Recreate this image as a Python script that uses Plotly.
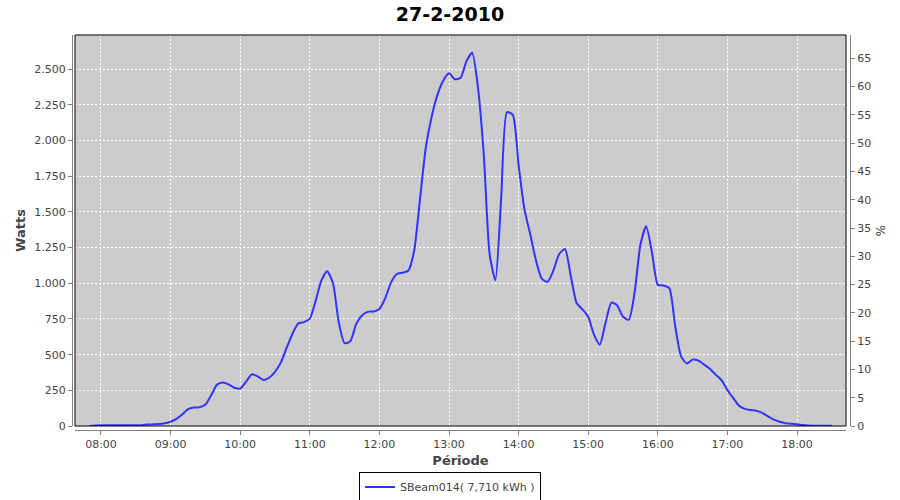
import pandas as pd
import plotly.graph_objects as go

title_text = "27-2-2010"
series_name = "SBeam014( 7,710 kWh )"
start_time = "2010-02-27 07:50"
step = "5min"

watts = [
    0, 3,
    5, 5, 5, 5, 5, 5, 5, 6, 10, 12, 14, 20,
    30, 50, 80, 118, 130, 131, 150, 215, 290, 305, 292, 268,
    262, 310, 362, 348, 322, 338, 380, 444, 547, 645, 718, 728,
    752, 875, 1020, 1085, 1000, 725, 580, 595, 715, 775, 800, 803,
    820, 895, 1005, 1065, 1074, 1090, 1230, 1590, 1950, 2165, 2320, 2420,
    2472, 2430, 2440, 2555, 2615, 2370, 1900, 1205, 1022, 1600, 2200, 2180,
    1830, 1520, 1345, 1160, 1032, 1010, 1090, 1205, 1240, 1050, 862, 818,
    765, 640, 570, 725, 865, 845, 765, 745, 935, 1270, 1400, 1215,
    990, 985, 965, 700, 490, 438, 465, 458, 430, 400, 360, 320,
    252, 195, 142, 120, 112, 107, 92, 67, 45, 30, 20, 15,
    12, 7, 4, 2, 2, 2, 2,
]
times = pd.date_range(start_time, periods=len(watts), freq=step)

x_range = ["2010-02-27 07:37:36", "2010-02-27 18:42:14"]
x_ticks = pd.date_range("2010-02-27 08:00", "2010-02-27 18:00", freq="1h")
x_ticklabels = [t.strftime("%H:%M") for t in x_ticks]
y_ticks = list(range(0, 2501, 250))
y_range = [0, 2740]
y2_ticks = list(range(0, 66, 5))
y2_range = [0, 69.12]
y2_title = "%"

FONT = "DejaVu Sans"
AX_GREY = "#808080"
TXT = "#444444"

fig = go.Figure()
fig.add_trace(go.Scatter(
    x=times, y=watts, mode="lines", name=series_name,
    line=dict(color="#3333ff", width=2, shape="spline", smoothing=0.6),
))
fig.add_trace(go.Scatter(x=[], y=[], yaxis="y2", showlegend=False, hoverinfo="skip"))

L, R, T, B = 72, 50, 35, 70
W, H = 900, 500
pw, ph = W - L - R, H - T - B

fig.update_layout(
    width=W, height=H,
    margin=dict(l=L, r=R, t=T, b=B, pad=0, autoexpand=False),
    paper_bgcolor="white",
    plot_bgcolor="#cccccc",
    separators=",.",
    font=dict(family=FONT, size=11, color=TXT),
    title=dict(text=title_text, x=0.5, xanchor="center", xref="container", y=1 - 14 / H, yanchor="middle",
               font=dict(family=FONT, size=19, color="black", weight="bold")),
    xaxis=dict(
        type="date", range=x_range, domain=[3 / pw, (846 - L) / pw],
        anchor="free", position=0, automargin=False,
        tickvals=list(x_ticks), ticktext=x_ticklabels,
        showline=True, linecolor=AX_GREY, linewidth=1,
        ticks="outside", ticklen=4, tickcolor=AX_GREY,
        showgrid=True, gridcolor="white", griddash="2px,2px", gridwidth=1,
        zeroline=False,
        tickfont=dict(family=FONT, size=11, color=TXT),
        title=dict(text="Période", standoff=5,
                   font=dict(family=FONT, size=13, color=TXT, weight="bold")),
    ),
    yaxis=dict(
        range=y_range, domain=[(430 - 426) / ph, 1],
        anchor="free", position=0, automargin=False,
        tickvals=y_ticks, tickformat=",d",
        showline=True, linecolor=AX_GREY, linewidth=1,
        ticks="outside", ticklen=4, tickcolor=AX_GREY,
        showgrid=True, gridcolor="white", griddash="2px,2px", gridwidth=1,
        zeroline=False,
        tickfont=dict(family=FONT, size=11, color=TXT),
        title=dict(text="Watts", standoff=4,
                   font=dict(family=FONT, size=13, color=TXT, weight="bold")),
    ),
    yaxis2=dict(
        range=y2_range, domain=[(430 - 426) / ph, 1],
        overlaying="y", side="right", anchor="free", position=1, automargin=False,
        tickvals=y2_ticks,
        showline=True, linecolor=AX_GREY, linewidth=1,
        ticks="outside", ticklen=4, tickcolor=AX_GREY,
        showgrid=False, zeroline=False,
        tickfont=dict(family=FONT, size=11, color=TXT),
    ),
    legend=dict(
        orientation="h", x=0.5, xanchor="center", xref="container",
        y=(430 - 487) / ph, yanchor="middle",
        bordercolor="black", borderwidth=1, bgcolor="white",
        font=dict(family=FONT, size=11, color=TXT),
    ),
    showlegend=True,
    shapes=[dict(type="rect", xref="x domain", yref="y domain", x0=0, x1=1, y0=0, y1=1,
                 line=dict(color="black", width=1), layer="above")],
    annotations=[dict(text=y2_title, xref="paper", yref="paper",
                      x=(880 - L) / pw, y=(430 - 230) / ph, xanchor="center", yanchor="middle",
                      textangle=90, showarrow=False,
                      font=dict(family=FONT, size=12, color=TXT))],
)

fig.write_html("out.html", config={"displayModeBar": False},
               post_script="document.body.style.margin='0';")
